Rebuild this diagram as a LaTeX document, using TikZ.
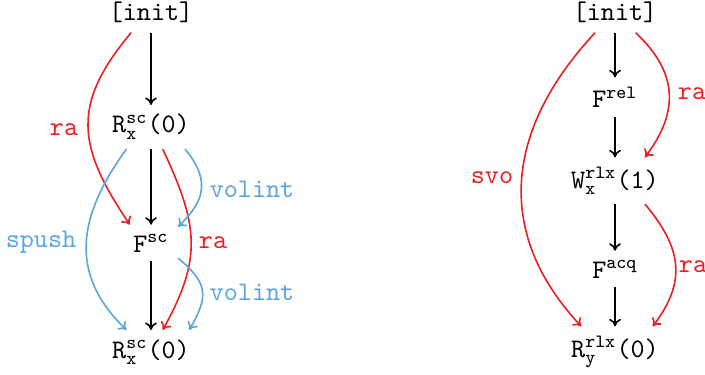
\documentclass[tikz,border=0pt]{standalone}
\usetikzlibrary{arrows.meta}
\definecolor{rared}{RGB}{235,30,35}
\definecolor{volblue}{RGB}{90,165,220}
\begin{document}
\begin{tikzpicture}[x=0.373pt,y=0.373pt,
  ev/.style={font=\ttfamily, anchor=base},
  lbl/.style={font=\ttfamily, anchor=base},
  tipped/.style={-{To[length=2.8pt,width=4.4pt]}, line width=0.6pt},
  po/.style={tipped, black},
  rel/.style={tipped, rared},
  vol/.style={tipped, volblue}]
\useasboundingbox (0,0) rectangle (705,-374);
% left graph
\node[ev] (i1) at (151,-21) {[init]};
\node[ev] (r1) at (151,-133) {R$_{\mathtt{x}}^{\mathtt{sc}}$(0)};
\node[ev] (f1) at (151,-252) {F$^{\mathtt{sc}}$};
\node[ev] (r2) at (151,-358) {R$_{\mathtt{x}}^{\mathtt{sc}}$(0)};
\draw[po] (i1) -- (r1);
\draw[po] (r1) -- (f1);
\draw[po] (f1) -- (r2);
\draw[rel] (i1.-135) to[out=-130,in=124,looseness=1.25] (f1.139);
\draw[rel] (r1.-62) to[out=-65,in=61,looseness=1.18] (r2.62);
\draw[vol] (r1.-33) to[out=-50,in=45,out looseness=1.5,in looseness=1.0] (f1.31);
\draw[vol] (f1.-29) to[out=-40,in=60,looseness=1.38] (r2.30);
\draw[vol] (r1.-138) to[out=-126,in=136,looseness=1.16] (r2.138);
\node[lbl, text=rared] (la1) at (64,-135) {ra};
\node[lbl, text=volblue] (la2) at (252,-197) {volint};
\node[lbl, text=volblue] (la3) at (41,-247) {spush};
\node[lbl, text=rared] (la4) at (213,-248) {ra};
\node[lbl, text=volblue] (la5) at (252,-300) {volint};
% right graph
\node[ev] (i2) at (615,-21) {[init]};
\node[ev] (fr) at (615,-108) {F$^{\mathtt{rel}}$};
\node[ev] (w) at (615,-188) {W$_{\mathtt{x}}^{\mathtt{rlx}}$(1)};
\node[ev] (fa) at (615,-278) {F$^{\mathtt{acq}}$};
\node[ev] (ry) at (615,-357) {R$_{\mathtt{y}}^{\mathtt{rlx}}$(0)};
\draw[po] (i2) -- (fr);
\draw[po] (fr) -- (w);
\draw[po] (w) -- (fa);
\draw[po] (fa) -- (ry);
\draw[rel] (i2.-44) to[out=-43,in=53,looseness=1.18] (w.38);
\draw[rel] (i2.-135) to[out=-133,in=133,looseness=1.13] (ry.143);
\draw[rel] (w.-38) to[out=-50,in=53,looseness=1.19] (ry.34);
\node[lbl, text=rared] (lb1) at (692,-100) {ra};
\node[lbl, text=rared] (lb2) at (492,-183) {svo};
\node[lbl, text=rared] (lb3) at (693,-272) {ra};
\end{tikzpicture}
\end{document}
